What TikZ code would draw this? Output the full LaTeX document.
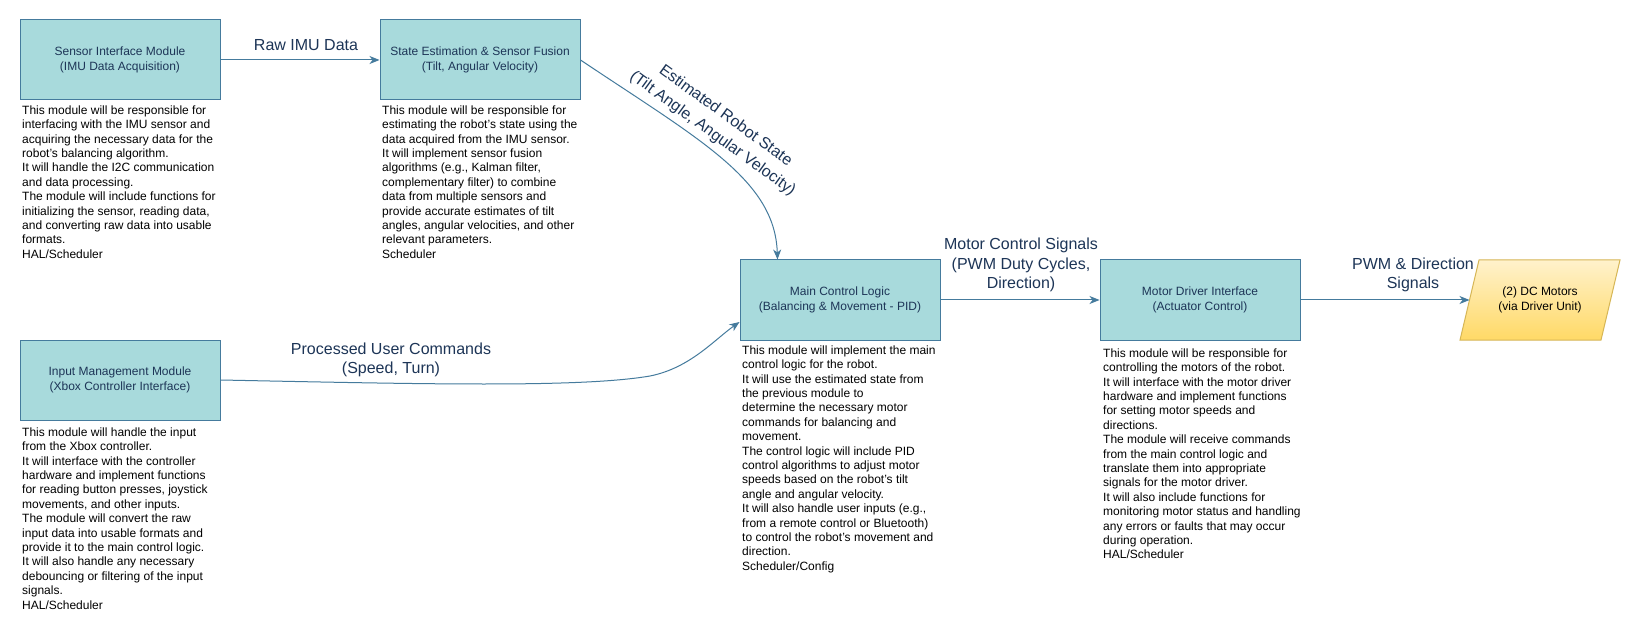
\documentclass[tikz,border=0pt]{standalone}
\usepackage{fontspec}
\setmainfont{Liberation Sans}
\usetikzlibrary{arrows.meta,calc}
\definecolor{boxfill}{HTML}{A8DADC}
\definecolor{boxline}{HTML}{457B9D}
\definecolor{navy}{HTML}{1D3557}
\definecolor{dcTop}{HTML}{FFF2CC}
\definecolor{dcBot}{HTML}{FFD966}
\definecolor{dcLine}{HTML}{D6B656}
\begin{document}
\begin{tikzpicture}[x=1pt,y=-1pt,
  module/.style={draw=boxline, fill=boxfill, line width=1pt, minimum width=200pt, minimum height=80pt, inner sep=0pt, align=center, text=navy, font=\fontsize{12}{15}\selectfont},
  desc/.style={anchor=north west, inner sep=0pt, align=left, font=\fontsize{12}{14.4}\selectfont, text=black},
  flow/.style={draw=boxline, line width=1pt, -{Stealth[length=10pt,width=8pt,inset=3pt]}},
  elabel/.style={inner sep=0pt, align=center, text=navy, font=\fontsize{16}{19.2}\selectfont}]
\fill[white, use as bounding box] (0,0) rectangle (1641,636);

% modules
\node[module] (sim) at (120,60) {Sensor Interface Module\\(IMU Data Acquisition)};
\node[module] (sef) at (480,60) {State Estimation \& Sensor Fusion\\(Tilt, Angular Velocity)};
\node[module] (imm) at (120,380) {Input Management Module\\(Xbox Controller Interface)};
\node[module] (mcl) at (840,300) {Main Control Logic\\(Balancing \& Movement - PID)};
\node[module] (mdi) at (1200,300) {Motor Driver Interface\\(Actuator Control)};

% DC motors parallelogram
\path[draw=dcLine, line width=1pt, top color=dcTop, bottom color=dcBot] (1460,340) -- (1479,260) -- (1620,260) -- (1601,340) -- cycle;
\node[align=center, inner sep=0pt, font=\fontsize{12}{15}\selectfont, text=black] (dcm) at (1540,300) {(2) DC Motors\\(via Driver Unit)};
\coordinate (dcin) at (1469.5,300);

% connectors
\draw[flow] (sim.east) -- (sef.west);
\node[elabel] (l1) at (306,45) {Raw IMU Data};

\draw[flow] (sef.east) .. controls (700,140) and (775,180) .. ($(mcl.north west)+(38,0)$);
\node[elabel, rotate=-36, font=\fontsize{16}{22}\selectfont] (l2) at (719,125) {Estimated Robot State\\(Tilt Angle, Angular Velocity)};

\draw[flow] (imm.east) .. controls (420,384) and (580,388) .. (650,376) .. controls (690,368) and (714,340) .. ($(mcl.west)+(0,22)$);
\node[elabel] (l3) at (391,360) {Processed User Commands\\(Speed, Turn)};

\draw[flow] (mcl.east) -- (mdi.west);
\node[elabel] (l4) at (1021,265) {Motor Control Signals\\(PWM Duty Cycles,\\Direction)};

\draw[flow] (mdi.east) -- (dcin);
\node[elabel] (l5) at (1413,275) {PWM \& Direction\\Signals};

% descriptions
\node[desc] (d1) at (22,104) {\strut This module will be responsible for\\interfacing with the IMU sensor and\\acquiring the necessary data for the\\robot's balancing algorithm.\\It will handle the I2C communication\\and data processing.\\The module will include functions for\\initializing the sensor, reading data,\\and converting raw data into usable\\formats.\\HAL/Scheduler};

\node[desc] (d2) at (382,104) {\strut This module will be responsible for\\estimating the robot's state using the\\data acquired from the IMU sensor.\\It will implement sensor fusion\\algorithms (e.g., Kalman filter,\\complementary filter) to combine\\data from multiple sensors and\\provide accurate estimates of tilt\\angles, angular velocities, and other\\relevant parameters.\\Scheduler};

\node[desc] (d3) at (22,426) {\strut This module will handle the input\\from the Xbox controller.\\It will interface with the controller\\hardware and implement functions\\for reading button presses, joystick\\movements, and other inputs.\\The module will convert the raw\\input data into usable formats and\\provide it to the main control logic.\\It will also handle any necessary\\debouncing or filtering of the input\\signals.\\HAL/Scheduler};

\node[desc] (d4) at (742,344) {\strut This module will implement the main\\control logic for the robot.\\It will use the estimated state from\\the previous module to\\determine the necessary motor\\commands for balancing and\\movement.\\The control logic will include PID\\control algorithms to adjust motor\\speeds based on the robot's tilt\\angle and angular velocity.\\It will also handle user inputs (e.g.,\\from a remote control or Bluetooth)\\to control the robot's movement and\\direction.\\Scheduler/Config};

\node[desc] (d5) at (1103,347) {\strut This module will be responsible for\\controlling the motors of the robot.\\It will interface with the motor driver\\hardware and implement functions\\for setting motor speeds and\\directions.\\The module will receive commands\\from the main control logic and\\translate them into appropriate\\signals for the motor driver.\\It will also include functions for\\monitoring motor status and handling\\any errors or faults that may occur\\during operation.\\HAL/Scheduler};
\end{tikzpicture}
\end{document}
